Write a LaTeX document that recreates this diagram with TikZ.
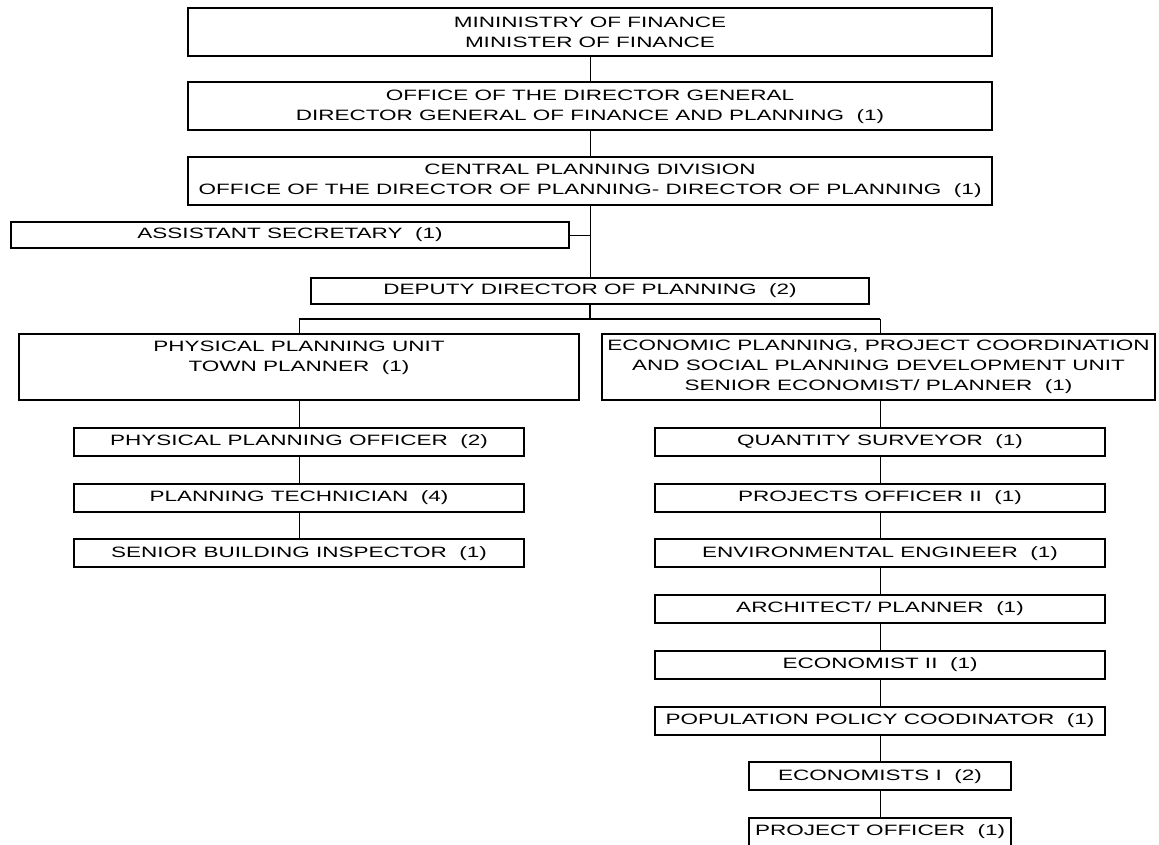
\documentclass[tikz,border=0pt]{standalone}
\usepackage{fontspec}
\setmainfont{Liberation Sans}[FakeStretch=1.5]
\usetikzlibrary{positioning}

\tikzstyle{unitbox} = [
    rectangle,
    draw=black,
    line width=2pt,
    align=center,
    inner sep=0pt,
    font=\fontsize{15}{20}\selectfont
]
\tikzstyle{topbox} = [unitbox, minimum width=804pt, minimum height=48pt]
\tikzstyle{widebox} = [unitbox, minimum width=558pt, minimum height=26pt]
\tikzstyle{postbox} = [unitbox, minimum width=450pt, minimum height=28pt]
\tikzstyle{shortbox} = [unitbox, minimum width=262pt, minimum height=28pt]
\tikzstyle{link} = [line width=1pt]
\tikzstyle{busline} = [line width=2pt]

\begin{document}
\begin{tikzpicture}[x=1pt, y=-1pt, node distance=25.7pt]

\useasboundingbox (0,0) rectangle (1159,845);

% Ministry and Director General
\node[topbox] (ministry) at (590, 32) {MININISTRY OF FINANCE\\MINISTER OF FINANCE};
\node[topbox] (dgoffice) at (590, 106.5) {OFFICE OF THE DIRECTOR GENERAL\\DIRECTOR GENERAL OF FINANCE AND PLANNING~~(1)};

% Central Planning Division
\node[topbox] (cpd) at (590, 181) {CENTRAL PLANNING DIVISION\\OFFICE OF THE DIRECTOR OF PLANNING- DIRECTOR OF PLANNING~~(1)};

% Assistant secretary and deputy
\node[widebox] (asstsec) at (290, 235) {ASSISTANT SECRETARY~~(1)};
\node[widebox] (deputy) at (590, 291) {DEPUTY DIRECTOR OF PLANNING~~(2)};

% Units
\node[unitbox, minimum width=560pt, minimum height=66pt] (physunit) at (299, 367) {};
\node[font=\fontsize{15}{20}\selectfont, align=center, inner sep=0pt] (physlabel) at (physunit.center) [yshift=9pt] {PHYSICAL PLANNING UNIT\\TOWN PLANNER~~(1)};
\node[unitbox, minimum width=553pt, minimum height=66pt] (econunit) at (878.5, 367) {ECONOMIC PLANNING, PROJECT COORDINATION\\AND SOCIAL PLANNING DEVELOPMENT UNIT\\SENIOR ECONOMIST/ PLANNER~~(1)};

% Physical planning staff
\node[postbox] (ppo) at (299, 442) {PHYSICAL PLANNING OFFICER~~(2)};
\node[postbox, below=of ppo] (plantech) {PLANNING TECHNICIAN~~(4)};
\node[postbox, below=of plantech] (sbi) {SENIOR BUILDING INSPECTOR~~(1)};

% Economic planning staff
\node[postbox] (qs) at (880, 442) {QUANTITY SURVEYOR~~(1)};
\node[postbox, below=of qs] (projoff2) {PROJECTS OFFICER II~~(1)};
\node[postbox, below=of projoff2] (enveng) {ENVIRONMENTAL ENGINEER~~(1)};
\node[postbox, below=of enveng] (architect) {ARCHITECT/ PLANNER~~(1)};
\node[postbox, below=of architect] (econ2) {ECONOMIST II~~(1)};
\node[postbox, below=of econ2] (popcoord) {POPULATION POLICY COODINATOR~~(1)};
\node[shortbox, below=of popcoord] (econ1) {ECONOMISTS I~~(2)};
\node[shortbox, below=of econ1] (projoff) {PROJECT OFFICER~~(1)};

% Connectors
\draw[link] (ministry) -- (dgoffice);
\draw[link] (dgoffice) -- (cpd);
\draw[link] (cpd) -- (deputy);
\draw[link] (asstsec.east) -- (asstsec.east -| cpd.south);
\draw[busline] (deputy.south) -- ++(0,14) coordinate (branch);
\draw[busline] (physunit.north |- branch) -- (qs.north |- branch);
\draw[link] (physunit.north |- branch) -- (physunit.north);
\draw[link] (qs.north |- branch) -- (qs.north |- econunit.north);
\draw[link] (physunit) -- (ppo);
\draw[link] (qs.north) -- (qs.north |- econunit.south);
\foreach \a/\b in {ppo/plantech, plantech/sbi, qs/projoff2, projoff2/enveng,
    enveng/architect, architect/econ2, econ2/popcoord, popcoord/econ1, econ1/projoff}
    \draw[link] (\a) -- (\b);

\end{tikzpicture}
\end{document}
